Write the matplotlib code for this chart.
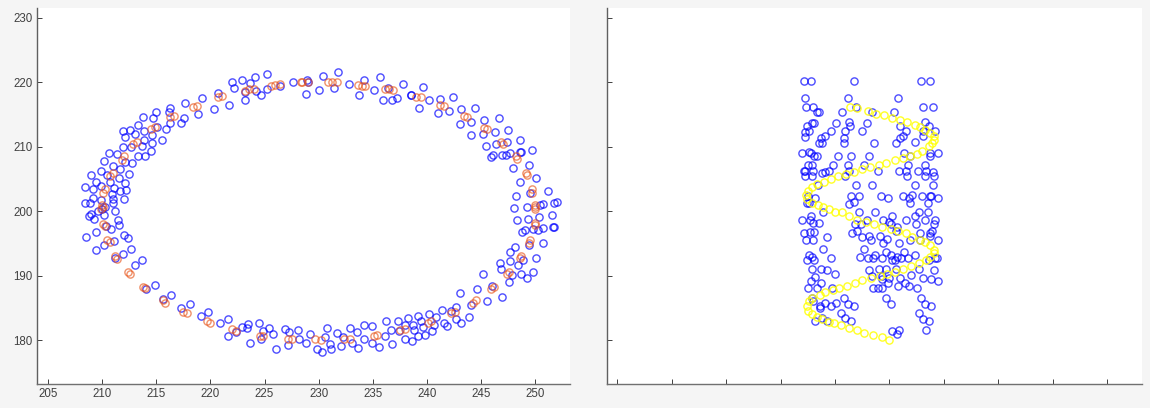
import matplotlib
matplotlib.use("Agg")
import matplotlib.pyplot as plt
import numpy as np

plt.rcParams['font.family'] = ['Liberation Sans', 'DejaVu Sans']

x_ticks = [205, 210, 215, 220, 225, 230, 235, 240, 245, 250]
y_ticks = [180, 190, 200, 210, 220, 230]

# left panel, noisy ring
ring_top_left = [
    (225.2, 221.3), (224.1, 220.8), (222.9, 220.4), (222.0, 220.1), (222.2, 219.1), (223.7, 219.9),
    (224.2, 218.6), (224.7, 218.0), (225.2, 219.0), (223.2, 218.5), (223.2, 217.3), (220.7, 218.4),
    (221.7, 216.5), (220.3, 215.8), (219.2, 217.5), (217.7, 216.8), (218.9, 215.1), (217.6, 214.4),
    (217.3, 213.7), (216.3, 216.0), (216.2, 215.4), (215.0, 215.4), (214.7, 214.4), (213.8, 214.7),
    (215.1, 213.0), (215.9, 212.7), (216.3, 213.7), (215.5, 211.0), (213.3, 213.4), (211.9, 212.5),
    (212.6, 212.6), (212.1, 211.5), (213.0, 212.0), (213.9, 212.5), (214.6, 211.8), (213.9, 211.1),
    (214.6, 210.6), (213.7, 210.1), (212.7, 210.0), (211.9, 209.9), (214.5, 209.4), (214.0, 208.6),
    (213.3, 208.6), (212.8, 207.5), (211.4, 208.9), (210.6, 209.1), (210.2, 207.8), (212.1, 207.6),
    (211.0, 207.0), (209.9, 206.2), (211.7, 206.5), (209.0, 205.6), (210.5, 205.6), (212.5, 205.8),
    (211.6, 205.1), (209.4, 204.5), (210.7, 204.5), (212.1, 204.4), (208.4, 203.7), (209.2, 203.5),
    (209.9, 203.9), (211.1, 203.6), (212.2, 203.3), (211.7, 203.1), (210.9, 202.6), (209.2, 202.0),
    (212.0, 201.9), (209.9, 201.7), (208.4, 201.3), (208.9, 201.2), (211.0, 201.3), (211.0, 201.9),
    (227.6, 220.0), (226.4, 219.5),
]
ring_bottom_left = [
    (211.2, 200.05), (209.6, 200.05), (210.3, 200.6), (210.0, 200.4), (209.0, 199.5), (208.8, 199.2),
    (209.3, 198.8), (210.2, 199.4), (211.5, 198.7), (211.6, 197.8), (210.4, 197.7), (210.8, 197.2),
    (208.5, 196.0), (209.4, 196.8), (212.0, 196.3), (212.4, 195.8), (211.1, 195.4), (210.2, 194.7),
    (209.4, 194.0), (212.7, 194.2), (211.9, 193.4), (211.2, 192.8), (213.7, 192.4), (213.0, 191.7),
    (214.9, 188.5), (214.1, 187.9), (216.4, 187.0), (215.6, 186.3), (218.1, 185.6), (217.3, 184.9),
    (219.8, 184.4), (219.1, 183.7), (221.6, 183.3), (220.9, 182.7), (223.5, 182.5), (224.5, 182.6),
    (222.9, 182.0), (223.4, 181.8), (225.4, 181.9), (226.9, 181.7), (228.1, 181.6), (227.3, 181.2),
    (224.9, 181.4), (222.4, 181.2), (221.6, 180.6), (225.8, 180.9), (224.7, 180.2), (228.2, 180.1),
    (223.7, 179.5), (227.2, 179.3), (226.1, 178.6),
]
ring_bottom_right = [
    (228.8, 179.5), (229.2, 180.9), (230.6, 180.5), (230.8, 181.8), (229.8, 178.6), (230.3, 178.2),
    (231.0, 179.4), (231.1, 178.6), (231.7, 181.1), (232.2, 180.4), (232.1, 179.1), (232.9, 181.8),
    (233.5, 181.2), (233.1, 179.6), (233.6, 178.8), (234.2, 182.4), (234.9, 182.1), (234.2, 180.2),
    (234.9, 179.6), (235.6, 178.9), (236.1, 180.6), (236.2, 183.0), (237.3, 183.0), (236.7, 181.6),
    (236.8, 179.4), (237.4, 181.4), (238.2, 183.4), (238.0, 182.4), (238.0, 180.1), (238.6, 179.9),
    (238.7, 182.4), (238.8, 181.6), (239.2, 183.7), (239.4, 182.9), (239.2, 180.7), (239.6, 182.0),
    (239.8, 180.8), (240.2, 184.1), (240.6, 182.3), (240.5, 181.4), (240.8, 183.6), (241.4, 184.6),
    (241.6, 182.7), (241.8, 182.1), (242.2, 184.5), (242.7, 185.1), (242.7, 183.2), (243.1, 182.7),
    (243.9, 183.5), (243.0, 187.3), (244.1, 185.5), (244.6, 187.9), (245.5, 186.1), (245.2, 190.3),
    (246.0, 188.4), (246.9, 186.7), (246.7, 191.9), (246.8, 191.0), (247.6, 189.0), (247.8, 190.1),
    (247.7, 192.2), (247.7, 193.6), (248.1, 194.5), (248.4, 191.6), (248.9, 192.4), (248.7, 190.3),
    (249.2, 189.6), (249.8, 190.5), (250.1, 192.8), (249.4, 194.8), (250.7, 195.1), (248.8, 196.8),
    (249.0, 197.1), (249.8, 197.2), (250.2, 197.1), (250.7, 197.4), (251.6, 197.6), (251.7, 197.6),
    (248.3, 198.7), (249.3, 198.8), (250.3, 199.1), (251.5, 199.4), (248.0, 200.5), (249.2, 200.7),
    (250.4, 200.9), (251.7, 201.2),
]
ring_top_right = [
    (228.9, 220.4), (228.8, 218.2), (229.0, 220.0), (230.0, 218.8), (230.4, 221.0), (231.4, 219.2),
    (231.8, 221.6), (232.8, 219.8), (233.7, 218.1), (234.2, 220.4), (235.1, 218.8), (235.7, 220.9),
    (235.9, 217.2), (236.4, 219.2), (236.8, 217.3), (237.2, 217.6), (237.8, 219.7), (238.5, 218.0),
    (238.5, 218.0), (239.6, 219.3), (239.3, 216.0), (240.2, 217.2), (241.2, 217.4), (242.4, 217.7),
    (241.0, 215.2), (242.0, 215.5), (243.1, 215.8), (244.4, 216.0), (243.0, 213.6), (244.1, 213.8),
    (245.3, 214.1), (246.6, 214.4), (246.3, 212.3), (247.5, 212.6), (245.2, 212.0), (244.1, 211.8),
    (246.4, 210.4), (245.4, 210.2), (247.4, 210.7), (248.6, 211.0), (249.7, 209.5), (248.6, 209.2),
    (248.7, 209.2), (247.7, 209.1), (247.3, 208.8), (246.9, 208.8), (246.1, 208.7), (245.9, 208.4),
    (249.4, 207.1), (247.9, 206.7), (250.1, 205.1), (248.6, 204.6), (251.2, 203.1), (249.5, 202.8),
    (248.2, 202.4), (252.0, 201.4), (250.7, 201.1),
]
ring_clean = [
    (228.4, 220.0), (226.4, 219.8), (226.0, 219.6), (225.6, 219.5), (223.2, 218.7), (223.6, 219.0),
    (224.0, 218.9), (220.7, 217.7), (221.1, 217.9), (218.4, 216.2), (218.8, 216.4), (216.3, 214.6),
    (216.6, 214.8), (214.5, 212.7), (214.9, 213.0), (212.9, 210.5), (213.2, 210.8), (211.8, 208.0),
    (212.0, 208.5), (210.7, 205.5), (211.0, 205.9), (210.1, 202.9), (210.3, 203.4), (210.0, 201.0),
    (210.1, 200.6), (209.95, 200.4), (210.1, 198.0), (210.3, 197.7), (210.5, 195.6), (210.7, 195.2),
    (211.2, 193.0), (211.4, 192.6), (212.4, 190.5), (212.6, 190.2), (213.8, 188.3), (214.0, 188.0),
    (215.6, 186.2), (215.8, 185.8), (217.5, 184.4), (217.8, 184.2), (219.7, 182.9), (220.0, 182.7),
    (222.0, 181.7), (222.4, 181.4), (224.6, 180.7), (224.9, 180.6), (227.2, 180.2), (227.5, 180.1),
    (229.7, 180.1), (230.2, 180.0), (232.3, 180.2), (232.9, 180.2), (235.1, 180.6), (235.4, 180.8),
    (237.5, 181.5), (238.0, 181.7), (240.1, 182.7), (240.4, 182.9), (242.2, 184.2), (242.6, 184.4),
    (244.2, 185.8), (244.5, 186.2), (245.9, 187.9), (246.2, 188.3), (247.4, 190.2), (247.6, 190.5),
    (248.6, 192.7), (248.7, 193.0), (249.4, 195.1), (249.5, 195.6), (250.0, 197.8), (250.0, 198.2),
    (250.0, 200.4), (250.0, 200.7), (228.5, 220.0), (229.0, 220.0), (230.9, 220.0), (231.2, 220.0),
    (231.7, 220.0), (233.6, 219.6), (234.0, 219.5), (234.3, 219.5), (236.1, 219.0), (236.5, 218.9),
    (236.9, 218.8), (239.0, 217.8), (239.4, 217.7), (241.2, 216.5), (241.6, 216.3), (243.4, 214.8),
    (243.7, 214.6), (245.3, 212.9), (245.5, 212.7), (246.8, 210.8), (247.0, 210.4), (248.2, 208.6),
    (248.3, 208.1), (249.1, 206.0), (249.2, 205.6), (249.7, 203.5), (249.7, 202.9), (250.0, 201.0),
]

# right panel, noisy column, upper half
column_upper = [
    (222.1, 220.2), (222.8, 220.2), (226.7, 220.2), (232.9, 220.2), (233.7, 220.2),
    (222.2, 217.6), (226.2, 217.6), (230.8, 217.6),
    (222.3, 216.2), (223.0, 216.2), (233.1, 216.2), (234.0, 216.2), (226.9, 216.2),
    (223.3, 215.4), (223.5, 215.4), (225.6, 215.4), (230.4, 215.4), (228.4, 215.4),
    (225.1, 213.7), (226.3, 213.8), (226.4, 213.2), (227.9, 213.7), (222.9, 213.7), (223.1, 213.7),
    (222.4, 213.2), (231.0, 213.2), (233.3, 213.8), (233.6, 213.2),
    (222.6, 212.5), (222.2, 212.3), (224.6, 212.5), (225.9, 212.4), (227.5, 212.5), (231.5, 212.5),
    (234.2, 212.5), (233.1, 212.5),
    (222.2, 211.5), (224.1, 211.7), (223.7, 211.4), (225.8, 211.3), (231.2, 211.6), (231.0, 211.3),
    (233.1, 211.7),
    (225.8, 210.6), (223.5, 210.6), (223.8, 210.6), (228.6, 210.6), (230.6, 210.6), (232.3, 210.7),
    (222.0, 209.1), (222.6, 209.2), (222.8, 209.0), (223.3, 208.6), (223.1, 208.6), (225.3, 208.6),
    (226.5, 208.6), (228.1, 208.6), (231.3, 209.1), (231.9, 208.6), (233.7, 209.0), (234.5, 209.0),
    (233.7, 208.5),
    (222.9, 207.2), (222.5, 207.2), (224.8, 207.1), (226.2, 207.2), (227.7, 207.2), (231.7, 207.2),
    (233.3, 207.2),
    (222.1, 206.2), (222.2, 206.2), (223.0, 206.2), (224.4, 206.2), (224.1, 206.1), (223.8, 206.0),
    (226.3, 206.2), (228.9, 206.2), (230.9, 206.2), (231.5, 206.2), (232.6, 206.2), (233.4, 206.2),
    (234.0, 206.1),
    (222.2, 205.4), (222.9, 205.4), (225.9, 205.5), (231.6, 205.4), (233.3, 205.4), (234.1, 205.4),
    (223.4, 204.0), (226.9, 204.0), (228.4, 204.0), (232.3, 204.0), (234.0, 204.0),
    (223.2, 202.1), (226.5, 202.4), (227.2, 202.4), (229.2, 202.3), (229.9, 202.1), (231.2, 202.3),
    (232.1, 202.5), (231.8, 202.1), (233.0, 202.3), (233.7, 202.4), (233.8, 202.3), (234.5, 202.1),
    (222.5, 202.4), (222.4, 201.3), (226.7, 201.4), (226.3, 201.1), (231.9, 201.3), (233.5, 201.3),
    (222.6, 201.2),
]
# right panel, noisy column, lower half
column_lower = [
    (223.9, 199.8), (227.2, 199.8), (228.7, 199.8), (230.2, 199.3), (232.7, 199.8), (233.5, 199.8),
    (232.3, 199.3),
    (222.8, 199.3), (222.0, 198.7), (222.7, 198.7), (223.0, 198.1), (223.5, 198.1), (226.8, 198.0),
    (227.9, 198.7), (229.4, 198.7), (231.5, 198.7), (233.3, 198.7), (234.2, 198.7), (227.4, 198.0),
    (230.0, 198.4), (232.4, 198.0), (234.1, 198.0), (230.7, 197.6), (230.1, 198.0),
    (222.1, 196.6), (222.7, 196.8), (223.1, 196.8), (222.3, 195.6), (223.0, 195.6), (224.3, 196.0),
    (226.6, 196.6), (227.0, 197.0), (227.5, 196.0), (228.1, 196.1), (228.3, 195.6), (229.1, 196.1),
    (229.8, 195.7), (230.6, 197.0), (229.4, 195.0), (230.9, 195.0), (231.9, 195.6), (232.8, 196.6),
    (233.7, 196.6), (233.9, 197.0), (234.5, 195.6), (232.8, 195.6), (233.7, 196.1),
    (223.9, 194.1), (222.6, 193.2), (222.9, 192.9), (222.4, 192.5), (223.1, 192.5), (224.6, 192.8),
    (227.7, 194.1), (227.3, 192.9), (228.0, 192.8), (228.5, 192.8), (228.7, 193.2), (229.3, 192.8),
    (229.7, 193.7), (230.1, 193.2), (230.5, 192.5), (230.7, 192.9), (231.3, 193.7), (231.1, 192.8),
    (232.3, 193.2), (231.7, 192.8), (230.2, 192.5), (233.6, 192.5), (234.2, 192.8), (234.4, 192.8),
    (222.9, 191.1), (223.7, 191.1), (224.3, 190.8), (225.0, 190.2), (223.2, 189.8), (222.8, 189.1),
    (223.7, 188.8), (222.5, 188.1), (223.3, 188.0), (228.1, 190.8), (229.0, 191.1), (229.7, 191.1),
    (230.6, 191.0), (232.7, 191.0), (234.1, 190.8), (228.4, 190.0), (229.3, 190.0), (230.0, 189.6),
    (231.0, 189.7), (232.0, 190.1), (233.1, 189.7), (233.8, 189.4), (234.5, 189.2), (229.3, 189.5),
    (228.5, 188.0), (228.9, 188.1), (229.3, 188.1), (229.9, 188.8), (230.8, 188.4), (231.4, 188.8),
    (231.8, 188.4), (232.5, 188.1), (224.7, 188.0),
    (222.9, 186.6), (225.8, 186.6), (229.7, 186.6), (232.9, 186.6), (223.0, 186.0), (224.1, 185.7),
    (223.6, 185.3), (224.6, 185.3), (225.1, 185.8), (226.2, 185.6), (226.7, 185.3), (230.1, 185.6),
    (233.3, 185.6), (233.8, 185.3), (223.6, 185.0),
    (225.5, 184.2), (232.7, 184.2), (225.9, 183.4), (226.5, 183.0), (233.1, 183.3), (233.6, 183.0),
    (223.2, 182.9), (224.3, 182.9), (223.8, 183.4),
    (230.2, 181.4), (230.9, 181.6), (230.7, 181.0), (233.4, 181.6),
]
# right panel, clean helix
helix = [
    (226.4, 216.2), (227.0, 216.1), (228.0, 215.6), (228.8, 215.1), (229.5, 214.9), (230.2, 214.5),
    (231.0, 214.1), (231.6, 213.8), (232.3, 213.4), (232.8, 213.0), (233.3, 212.6), (233.7, 212.1),
    (234.1, 211.6), (234.1, 211.1), (233.9, 210.6), (233.6, 210.1), (233.0, 209.3), (232.5, 208.9),
    (231.9, 208.6), (231.2, 208.2), (230.5, 207.9), (229.7, 207.5), (229.0, 207.1), (228.2, 206.8),
    (227.5, 206.5), (226.7, 206.1), (226.0, 205.8), (225.3, 205.4), (224.6, 205.0), (224.0, 204.5),
    (223.3, 204.2), (222.9, 203.8), (222.5, 203.2), (222.3, 202.5), (222.4, 201.9), (222.9, 201.3),
    (223.4, 201.0), (223.9, 200.6), (224.4, 200.3), (225.0, 199.9), (225.6, 199.8), (226.3, 199.2),
    (227.0, 198.7), (227.8, 198.4), (228.6, 198.0), (229.3, 197.5), (230.1, 197.2), (230.8, 196.9),
    (231.5, 196.6), (232.1, 196.0), (232.8, 195.6), (233.3, 195.2), (233.7, 194.8), (234.1, 194.0),
    (234.1, 193.5), (233.7, 192.9), (233.4, 192.5), (232.7, 191.9), (232.0, 191.5), (231.2, 191.1),
    (230.5, 190.6), (229.8, 190.3), (229.1, 189.9), (228.3, 189.7), (227.5, 189.3), (226.8, 188.9),
    (226.1, 188.4), (225.4, 188.1), (224.8, 187.8), (224.1, 187.4), (223.6, 187.0), (222.9, 186.5),
    (222.6, 186.1), (222.4, 185.3), (222.5, 184.5), (222.9, 184.0), (223.3, 183.6), (223.8, 183.2),
    (224.4, 182.8), (224.9, 182.6), (225.5, 182.3), (226.3, 181.9), (227.0, 181.5), (227.7, 181.1),
    (228.5, 180.8), (229.3, 180.4), (230.0, 180.0),
]

def plot_points(ax, points, color, alpha):
    pts = np.array(points).T
    ax.plot(pts[0], pts[1], 'o', mfc='none', mec=color, mew=1.0, ms=5.2, alpha=alpha)

def style_axes(ax, labels):
    ax.set_xlim(204, 253.2)
    ax.set_ylim(173.17, 231.55)
    ax.set_xticks(x_ticks)
    ax.set_yticks(y_ticks)
    if not labels:
        ax.set_xticklabels([])
        ax.set_yticklabels([])
    ax.tick_params(direction='in', length=3.5, width=0.7, color='#404040', labelcolor='#404040',
                   labelsize=8.3, pad=3)
    ax.spines['top'].set_visible(False)
    ax.spines['right'].set_visible(False)
    ax.spines['left'].set_color('#606060')
    ax.spines['bottom'].set_color('#707070')
    ax.spines['left'].set_linewidth(1.0)
    ax.spines['bottom'].set_linewidth(1.0)

fig = plt.figure(figsize=(11.5, 4.08), dpi=100, facecolor='#f5f5f5')
ax1 = fig.add_axes([37 / 1150, 24 / 408, 533 / 1150, 376 / 408])
ax2 = fig.add_axes([606.5 / 1150, 24 / 408, 535.5 / 1150, 376 / 408])

for part in [ring_top_left, ring_bottom_left, ring_bottom_right, ring_top_right]:
    plot_points(ax1, part, '#0000ff', 0.7)
plot_points(ax1, ring_clean, '#e8551a', 0.65)
style_axes(ax1, True)

plot_points(ax2, column_upper, '#0000ff', 0.7)
plot_points(ax2, column_lower, '#0000ff', 0.7)
plot_points(ax2, helix, '#ffff00', 0.85)
style_axes(ax2, False)

fig.savefig('out.png', dpi=100, facecolor=fig.get_facecolor())
